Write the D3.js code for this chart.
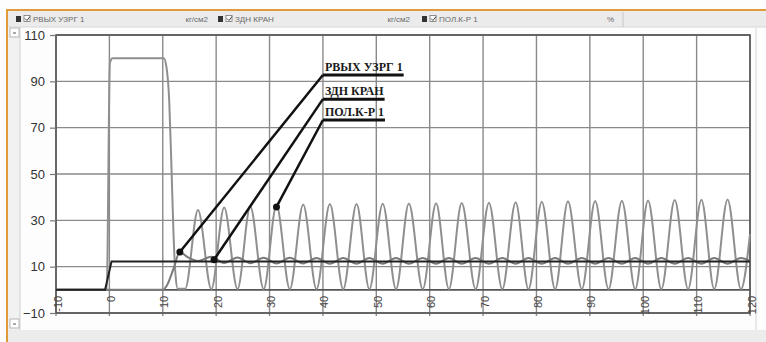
<!DOCTYPE html>
<html>
<head>
<meta charset="utf-8">
<script src="https://cdn.jsdelivr.net/npm/d3@7"></script>
<style>
  body { margin: 0; background: #fff; }
  svg { display: block; }
</style>
</head>
<body>
<svg width="766" height="342"></svg>
<script>
// legend items in the header strip
var seriesNames = ["РВЫХ УЗРГ 1", "ЗДН КРАН", "ПОЛ.К-Р 1"];
var seriesUnits = ["кг/см2", "кг/см2", "%"];

// axis ticks
var xTicks = [-10, 0, 10, 20, 30, 40, 50, 60, 70, 80, 90, 100, 110, 120];
var yTicks = [-10, 10, 30, 50, 70, 90, 110];

// ЗДН КРАН (set point)
var zdnT = [-10, -0.8, 0.4, 120];
var zdnV = [0, 0, 12.2, 12.2];

// ПОЛ.К-Р 1 (valve position, %)
var polT = [-10, -0.5, 0.1, 0.6, 10.2, 10.7, 11.2, 11.6, 12.0, 12.4, 12.8, 14.2,
  16.6, 19.1, 21.5, 24.0, 26.4, 28.9, 31.3, 33.8, 36.3, 38.8, 41.3, 43.8, 46.3, 48.7,
  51.2, 53.7, 56.1, 58.7, 61.2, 63.6, 66.0, 68.6, 71.1, 73.6, 76.1, 78.5, 81.0, 83.5,
  85.9, 88.5, 91.0, 93.5, 96.0, 98.5, 100.9, 103.4, 105.9, 108.4, 110.9, 113.3, 115.8, 118.3, 120];
var polV = [0, 0, 98, 100, 100, 96, 82, 55, 25, 6, 0.5, 0.5,
  34.5, 0.3, 35.5, 0.3, 36.0, 0.3, 36.5, 0.3, 36.8, 0.3, 37.0, 0.3, 37.0, 0.3,
  37.2, 0.3, 37.3, 0.3, 37.4, 0.3, 37.5, 0.3, 37.6, 0.3, 37.8, 0.3, 38.0, 0.3,
  38.2, 0.3, 38.3, 0.3, 38.5, 0.3, 38.6, 0.3, 38.8, 0.3, 38.9, 0.3, 39.0, 0.3, 24];

// РВЫХ УЗРГ 1 (outlet pressure)
var rvT = [-10, 10.0, 10.8, 12.0, 13.2, 14.6,
  16.6, 19.1, 21.5, 24.0, 26.4, 28.9, 31.3, 33.8, 36.3, 38.8, 41.3, 43.8, 46.3, 48.7,
  51.2, 53.7, 56.1, 58.7, 61.2, 63.6, 66.0, 68.6, 71.1, 73.6, 76.1, 78.5, 81.0, 83.5,
  85.9, 88.5, 91.0, 93.5, 96.0, 98.5, 100.9, 103.4, 105.9, 108.4, 110.9, 113.3, 115.8, 118.3, 120];
var rvV = [0, 0, 2, 9, 16.3, 14.2,
  12.5, 14.3, 11.6, 14.0, 11.5, 13.8, 11.4, 13.8, 11.4, 13.7, 11.3, 13.7, 11.3, 13.7,
  11.3, 13.7, 11.3, 13.7, 11.3, 13.7, 11.3, 13.7, 11.3, 13.7, 11.3, 13.7, 11.3, 13.7,
  11.3, 13.7, 11.3, 13.7, 11.3, 13.7, 11.3, 13.7, 11.3, 13.7, 11.3, 13.7, 11.3, 13.7, 12.5];

// annotation callouts: point on curve and label anchor (data units)
var annoNames = ["РВЫХ УЗРГ 1", "ЗДН КРАН", "ПОЛ.К-Р 1"];
var annoPointT = [13.2, 19.6, 31.3];
var annoPointV = [16.3, 13.0, 35.8];
var annoLabelT = [40, 40, 40];
var annoLabelV = [92.7, 82.3, 73.3];

var svg = d3.select("svg");
var W = 766, H = 342;
var plot = { left: 56, right: 750, top: 35, bottom: 313 };

var x = d3.scaleLinear([-10, 120], [plot.left, plot.right]);
var y = d3.scaleLinear([-10, 110], [plot.bottom, plot.top]);

// window chrome
svg.append("rect").attr("width", W).attr("height", H).attr("fill", "#fdfdfd");
svg.append("rect").attr("x", 8).attr("y", 11).attr("width", W - 8).attr("height", 16)
  .attr("fill", "#ebebeb");
svg.append("line").attr("x1", 8).attr("x2", W).attr("y1", 27).attr("y2", 27)
  .attr("stroke", "#d6d6d6");
svg.append("rect").attr("x", 8).attr("y", 330).attr("width", W - 8).attr("height", 12)
  .attr("fill", "#ececec");
svg.append("rect").attr("x", 8).attr("y", 27).attr("width", 12).attr("height", 303)
  .attr("fill", "#f1f1f1");
svg.append("line").attr("x1", 20).attr("x2", 20).attr("y1", 27).attr("y2", 330)
  .attr("stroke", "#d0d0d0");
[28, 319].forEach(function (by) {
  svg.append("rect").attr("x", 10).attr("y", by).attr("width", 9).attr("height", 9)
    .attr("fill", "#fff").attr("stroke", "#b5b5b5");
  svg.append("line").attr("x1", 13).attr("x2", 16).attr("y1", by + 5).attr("y2", by + 5)
    .attr("stroke", "#555");
});
svg.append("line").attr("x1", 756).attr("x2", 756).attr("y1", 28).attr("y2", 330)
  .attr("stroke", "#d4d4d4");
svg.append("line").attr("x1", 623).attr("x2", 623).attr("y1", 12).attr("y2", 27)
  .attr("stroke", "#c8c8c8");
svg.append("line").attr("x1", 6).attr("x2", W).attr("y1", 10).attr("y2", 10)
  .attr("stroke", "#e09a3c").attr("stroke-width", 2);
svg.append("line").attr("x1", 7).attr("x2", 7).attr("y1", 9).attr("y2", H)
  .attr("stroke", "#e09a3c").attr("stroke-width", 2);

// header legend
var legend = svg.append("g").attr("font-family", "Liberation Sans, Arial, sans-serif")
  .attr("font-size", 8).attr("fill", "#6a6a6a");
seriesNames.forEach(function (name, i) {
  var lx = [16, 218, 422][i];
  legend.append("rect").attr("x", lx).attr("y", 16).attr("width", 5).attr("height", 6)
    .attr("fill", "#333");
  legend.append("rect").attr("x", lx + 8).attr("y", 15.5).attr("width", 6).attr("height", 6)
    .attr("fill", "#fff").attr("stroke", "#777").attr("stroke-width", 0.8);
  legend.append("path").attr("d", "M" + (lx + 9) + ",18.5 l2,2 l3,-4")
    .attr("fill", "none").attr("stroke", "#333").attr("stroke-width", 0.9);
  legend.append("text").attr("x", lx + 17).attr("y", 21.5).text(name);
  legend.append("text").attr("x", lx + 192).attr("y", 21.5).attr("text-anchor", "end")
    .text(seriesUnits[i]);
});

// plot background
svg.append("rect").attr("x", plot.left).attr("y", plot.top)
  .attr("width", plot.right - plot.left).attr("height", plot.bottom - plot.top)
  .attr("fill", "#fff");

// grid
var grid = svg.append("g").attr("stroke", "#8a8a8a").attr("stroke-width", 1.4);
grid.selectAll("line.v").data(xTicks).enter().append("line").attr("class", "v")
  .attr("x1", function (d) { return x(d); }).attr("x2", function (d) { return x(d); })
  .attr("y1", plot.top).attr("y2", plot.bottom + 3);
grid.selectAll("line.h").data(yTicks).enter().append("line").attr("class", "h")
  .attr("x1", plot.left).attr("x2", plot.right)
  .attr("y1", function (d) { return y(d); }).attr("y2", function (d) { return y(d); });

// frame + zero line
svg.append("rect").attr("x", plot.left).attr("y", plot.top)
  .attr("width", plot.right - plot.left).attr("height", plot.bottom - plot.top)
  .attr("fill", "none").attr("stroke", "#555").attr("stroke-width", 1.6);
svg.append("line").attr("x1", plot.left).attr("x2", plot.right)
  .attr("y1", y(0)).attr("y2", y(0)).attr("stroke", "#555").attr("stroke-width", 1.6);

// y axis
var yAxis = svg.append("g").attr("transform", "translate(" + plot.left + ",0)")
  .call(d3.axisLeft(y).tickValues(yTicks).tickSize(6).tickPadding(5));
yAxis.select(".domain").remove();
yAxis.selectAll("line").attr("stroke", "#777").attr("stroke-width", 1.2);
yAxis.selectAll("text").attr("font-family", "Liberation Sans, Arial, sans-serif")
  .attr("font-size", 13).attr("fill", "#333");

// x axis labels, rotated
svg.append("g").selectAll("text").data(xTicks).enter().append("text")
  .attr("transform", function (d) {
    return "translate(" + (x(d) + 5.5) + "," + (y(0) + 6) + ") rotate(-90)";
  })
  .attr("text-anchor", "end")
  .attr("font-family", "Liberation Sans, Arial, sans-serif")
  .attr("font-size", 11).attr("fill", "#444")
  .text(function (d) { return d; });

// series
function pts(ts, vs) { return ts.map(function (t, i) { return [t, vs[i]]; }); }
var line = d3.line().x(function (d) { return x(d[0]); }).y(function (d) { return y(d[1]); })
  .curve(d3.curveMonotoneX);

svg.append("path").datum(pts(polT, polV)).attr("d", line)
  .attr("fill", "none").attr("stroke", "#8f8f8f").attr("stroke-width", 2);
svg.append("path").datum(pts(rvT, rvV)).attr("d", line)
  .attr("fill", "none").attr("stroke", "#7a7a7a").attr("stroke-width", 2);
svg.append("path").datum(pts(zdnT, zdnV)).attr("d", d3.line()
    .x(function (d) { return x(d[0]); }).y(function (d) { return y(d[1]); }))
  .attr("fill", "none").attr("stroke", "#222").attr("stroke-width", 2);

// callouts
var anno = svg.append("g");
annoNames.forEach(function (name, i) {
  var lx = x(annoLabelT[i]), ly = y(annoLabelV[i]);
  var t = anno.append("text").attr("x", lx + 2).attr("y", ly - 4)
    .attr("font-family", "Liberation Serif, Times New Roman, serif")
    .attr("font-weight", "bold").attr("font-size", 12).attr("fill", "#1a1a1a")
    .text(name);
  var len = t.node().getComputedTextLength();
  anno.append("line").attr("x1", lx).attr("x2", lx + len + 3).attr("y1", ly).attr("y2", ly)
    .attr("stroke", "#111").attr("stroke-width", 3);
  anno.append("line").attr("x1", lx).attr("y1", ly)
    .attr("x2", x(annoPointT[i])).attr("y2", y(annoPointV[i]))
    .attr("stroke", "#111").attr("stroke-width", 2.5);
  anno.append("circle").attr("cx", x(annoPointT[i])).attr("cy", y(annoPointV[i]))
    .attr("r", 3.5).attr("fill", "#111");
});
</script>
</body>
</html>
